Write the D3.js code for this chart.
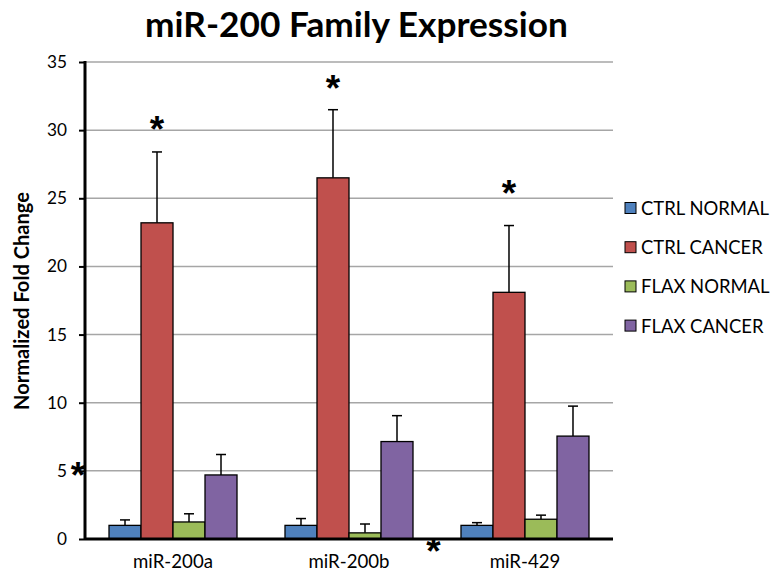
<!DOCTYPE html>
<html><head><meta charset="utf-8">
<script src="https://cdn.jsdelivr.net/npm/d3@7"></script>
<style>body{margin:0;background:#fff}svg{display:block}</style>
</head><body><svg id="c" width="772" height="579"></svg>
<script>
const categories = ["miR-200a", "miR-200b", "miR-429"];
const seriesNames = ["CTRL NORMAL", "CTRL CANCER", "FLAX NORMAL", "FLAX CANCER"];
const colors = ["#4F81BD", "#C0504D", "#9BBB59", "#8064A2"];
const ctrlNormal = [1.0, 1.0, 1.0];
const ctrlCancer = [23.2, 26.5, 18.1];
const flaxNormal = [1.25, 0.45, 1.45];
const flaxCancer = [4.7, 7.15, 7.55];
const ctrlNormalErr = [0.4, 0.5, 0.2];
const ctrlCancerErr = [5.2, 5.0, 4.9];
const flaxNormalErr = [0.6, 0.65, 0.3];
const flaxCancerErr = [1.5, 1.9, 2.2];
const yTicks = [0, 5, 10, 15, 20, 25, 30, 35];
const starsAbove = [{cat: "miR-200a", v: 30.7}, {cat: "miR-200b", v: 33.7}, {cat: "miR-429", v: 26.0}];

const values = [ctrlNormal, ctrlCancer, flaxNormal, flaxCancer];
const errs = [ctrlNormalErr, ctrlCancerErr, flaxNormalErr, flaxCancerErr];

(function () {
const svg = d3.select("#c");
const font = "Lato, 'Open Sans', sans-serif";
const mL = 85, mR = 613, mT = 62, mB = 539;

function fit(sel, target) {
  const n = sel.node();
  const fs = parseFloat(sel.attr("font-size"));
  const w = n.getComputedTextLength();
  if (w > 0) sel.attr("font-size", fs * target / w);
}

const x = d3.scaleBand().domain(categories).range([mL, mR]).paddingInner(0.2727).paddingOuter(0.1364);
const xs = d3.scaleBand().domain(seriesNames).range([0, x.bandwidth()]);
const y = d3.scaleLinear().domain([0, 35]).range([mB, mT]);

svg.append("g").selectAll("line").data(yTicks.filter(t => t > 0)).join("line")
  .attr("x1", mL).attr("x2", mR).attr("y1", d => y(d)).attr("y2", d => y(d))
  .attr("stroke", "#a6a6a6").attr("stroke-width", 1.5);

const title = svg.append("text").attr("x", 356.5).attr("y", 37).attr("text-anchor", "middle")
  .attr("font-family", font).attr("font-weight", "bold").attr("font-size", 33).text("miR-200 Family Expression");
fit(title, 423);

const yAxis = d3.axisLeft(y).tickValues(yTicks).tickSize(6).tickPadding(12);
const ga = svg.append("g").attr("transform", `translate(${mL},0)`).call(yAxis);
ga.select(".domain").attr("stroke", "#000").attr("stroke-width", 3).attr("d", `M0,${mT-1}V${mB}`);
ga.selectAll(".tick line").attr("stroke", "#000").attr("stroke-width", 2);
ga.selectAll(".tick text").attr("font-family", font).attr("font-size", 16).attr("fill", "#000");
const t35 = ga.selectAll(".tick text").filter(d => d === 35);
fit(t35, 20);
ga.selectAll(".tick text").attr("font-size", t35.attr("font-size"));

const ylab = svg.append("text").attr("transform", `translate(29,${301}) rotate(-90)`)
  .attr("text-anchor", "middle").attr("font-family", font).attr("font-weight", "bold").attr("font-size", 14.5)
  .text("Normalized Fold Change");
fit(ylab, 218);

const groups = svg.append("g").selectAll("g").data(categories).join("g")
  .attr("transform", d => `translate(${x(d)},0)`);
seriesNames.forEach((s, si) => {
  groups.append("rect")
    .attr("x", xs(s)).attr("width", xs.bandwidth())
    .attr("y", (d, i) => y(values[si][i])).attr("height", (d, i) => y(0) - y(values[si][i]))
    .attr("fill", colors[si]).attr("stroke", "#000").attr("stroke-width", 1.3);
  const cx = xs(s) + xs.bandwidth() / 2;
  groups.append("line").attr("x1", cx).attr("x2", cx)
    .attr("y1", (d, i) => y(values[si][i])).attr("y2", (d, i) => y(values[si][i] + errs[si][i]))
    .attr("stroke", "#000").attr("stroke-width", 1.5);
  groups.append("line").attr("x1", cx - 5).attr("x2", cx + 5)
    .attr("y1", (d, i) => y(values[si][i] + errs[si][i])).attr("y2", (d, i) => y(values[si][i] + errs[si][i]))
    .attr("stroke", "#000").attr("stroke-width", 1.5);
});

const xAxis = d3.axisBottom(x).tickSize(0).tickPadding(14);
const gx = svg.append("g").attr("transform", `translate(0,${mB})`).call(xAxis);
gx.select(".domain").attr("stroke", "#000").attr("stroke-width", 3).attr("d", `M${mL},0H${mR}`);
gx.selectAll(".tick text").attr("font-family", font).attr("font-size", 16).attr("fill", "#000").attr("dy", null).attr("y", 29);
const c0 = gx.selectAll(".tick text").filter(d => d === "miR-200a");
fit(c0, 80);
gx.selectAll(".tick text").attr("font-size", c0.attr("font-size"));

const star = (px, py) => svg.append("text").attr("x", px).attr("y", py).attr("text-anchor", "middle")
  .attr("font-family", "'Liberation Sans', sans-serif").attr("font-weight", "bold").attr("font-size", 37)
  .attr("dy", 21).text("*");
starsAbove.forEach(s => star(x(s.cat) + xs("CTRL CANCER") + xs.bandwidth() / 2, y(s.v)));
star(mL - 7, y(5.3));
star(x("miR-429") - x.step() * 0.02 - (x.step() - x.bandwidth()) / 2, y(-0.3));

const lg = svg.append("g").selectAll("g").data(seriesNames).join("g")
  .attr("transform", (d, i) => `translate(625,${208 + i * 39.2})`);
lg.append("rect").attr("x", 0).attr("y", -5.5).attr("width", 11).attr("height", 11)
  .attr("fill", (d, i) => colors[i]).attr("stroke", "#000").attr("stroke-width", 1);
const lt = lg.append("text").attr("x", 16).attr("y", 0).attr("dominant-baseline", "central")
  .attr("font-family", font).attr("font-size", 16).text(d => d);
const l0 = lt.filter(d => d === "CTRL NORMAL");
fit(l0, 128);
lt.attr("font-size", l0.attr("font-size"));
})();
</script></body></html>
